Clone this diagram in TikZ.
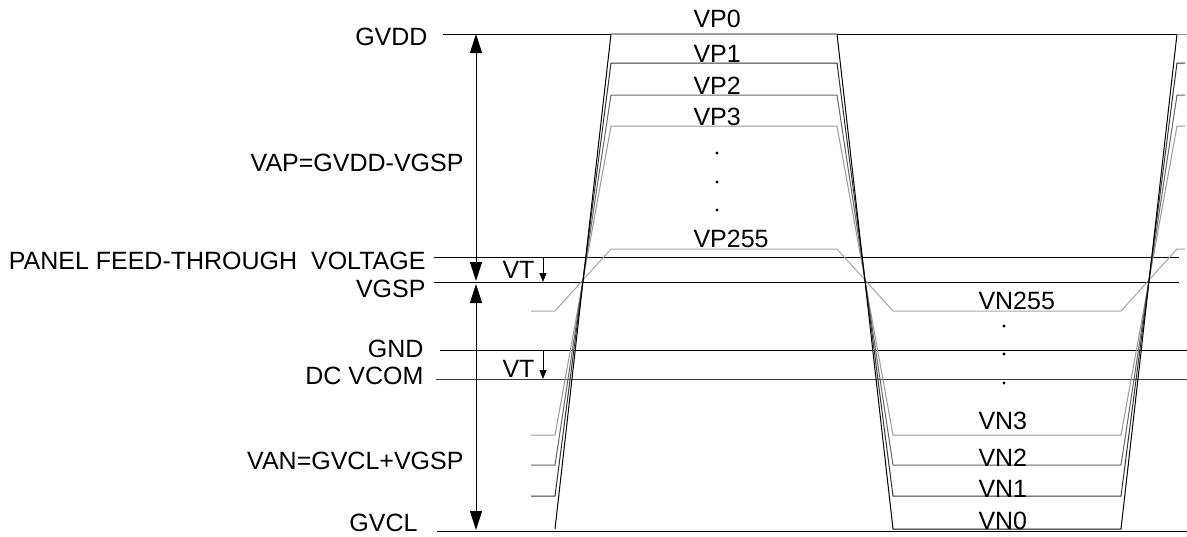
\documentclass[tikz,border=0pt]{standalone}
\usepackage{fontspec}
\setmainfont{Liberation Sans}
\usetikzlibrary{arrows.meta}

\tikzset{
  lvl/.style={anchor=base east, inner sep=0pt},
  tag/.style={anchor=base west, inner sep=0pt},
  span/.style={{Triangle[length=19pt,width=12pt]}-{Triangle[length=19pt,width=12pt]}},
  vtarrow/.style={line width=0.8pt, -{Triangle[length=9pt,width=7pt]}},
}

\begin{document}
\begin{tikzpicture}[x=1pt, y=-1pt, line width=1pt, font=\fontsize{25}{29}\selectfont]
  \useasboundingbox (0,0) rectangle (1187,536);
  % level lines
  \foreach \y/\xa/\xb/\c in {34/443/1177/black, 257/434/1179/black, 282/434/1179/black,
                             350/440/1187/black, 379/436/1187/black!75, 531/437/1187/black}{
    \draw[\c] (\xa,\y) -- (\xb,\y);
  }
  % source output levels
  \foreach \p/\n/\c in {249/311/black!35, 126/435/black!40, 95/465/black!60, 63/496/black!80}{
    \draw[\c] (531,\n) -- (555,\n) -- (611,\p) -- (837,\p) -- (893,\n) -- (1121,\n) -- (1177,\p) -- (1185,\p);
  }
  \draw (555,529) -- (611,34) -- (837,34) -- (893,529) -- (1121,529) -- (1177,34);
  \draw[black!40] (611,34) -- (837,34) (1177,34) -- (1187,34);

  \foreach \x/\y/\t/\nm in {428/45/GVDD/gvdd, 464/171/VAP=GVDD-VGSP/vap,
                            426/269/PANEL FEED-THROUGH\ \ VOLTAGE/pftv, 426/297/VGSP/vgsp,
                            424/357/GND/gnd, 424/384/DC VCOM/dcvcom,
                            464/469/VAN=GVCL+VGSP/van, 418/531/GVCL/gvcl}{
    \node[lvl] (\nm) at (\x,\y) {\t};
  }
  \foreach \y/\t in {27/0, 62/1, 94/2, 125/3, 247/255}{
    \node[tag] (vp\t) at (693,\y) {VP\t};
  }
  \foreach \y/\t in {309/255, 429/3, 466/2, 497/1, 529/0}{
    \node[tag] (vn\t) at (978,\y) {VN\t};
  }
  \foreach \y in {153,182,210}{
    \fill (717,\y) circle (1.6pt);
  }
  \foreach \y in {326,354,383}{
    \fill (1004,\y) circle (1.6pt);
  }

  % amplitude arrows
  \coordinate (vapTop) at (476,34);
  \coordinate (vapBot) at (476,281);
  \coordinate (vanTop) at (476,284);
  \coordinate (vanBot) at (476,530);
  \draw[span] (vapTop) -- (vapBot);
  \draw[span] (vanTop) -- (vanBot);

  \coordinate (vtA) at (543,257);
  \coordinate (vtAend) at (543,282);
  \coordinate (vtB) at (543,350);
  \coordinate (vtBend) at (543,379);
  \draw[vtarrow] (vtA) -- (vtAend);
  \draw[vtarrow] (vtB) -- (vtBend);
  \node[lvl] (vtup) at (535,278) {VT};
  \node[lvl] (vtlow) at (535,377) {VT};
\end{tikzpicture}
\end{document}
